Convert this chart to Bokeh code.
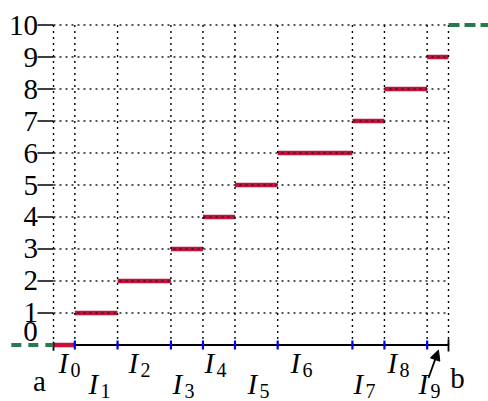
from bokeh.plotting import figure
from bokeh.models import Range1d, Arrow, NormalHead
from bokeh.embed import file_html
from bokeh.resources import INLINE
from bokeh.core.properties import value

# ---- data ----
breaks = [0, 2, 6, 11, 14, 17, 21, 28, 31, 35, 37]
levels = [0, 1, 2, 3, 4, 5, 6, 7, 8, 9]
y_ticks = [1, 2, 3, 4, 5, 6, 7, 8, 9, 10]
y_tick_labels = ["1", "2", "3", "4", "5", "6", "7", "8", "9", "10"]
zero_label = "0"
interval_subs = ["0", "1", "2", "3", "4", "5", "6", "7", "8", "9"]
left_level = 0
right_level = 10
end_labels = ["a", "b"]

# ---- annotation anchors (data coords) ----
label_x = [0.47, 3.28, 7.03, 11.15, 14.14, 18.17, 22.2, 28.1, 31.28, 34.19]
label_y_hi, label_y_lo = -0.55, -1.23

SERIF = value("Liberation Serif")
FS = "29px"
FS_SUB = "20px"

X0, X1 = -4.964, 40.747
p = figure(width=488, height=401, x_range=Range1d(X0, X1),
           y_range=Range1d(-1.766, 10.766), toolbar_location=None,
           output_backend="svg", min_border=0)
p.axis.visible = False
p.grid.visible = False
p.outline_line_color = None
p.background_fill_color = "white"

xa, xb = breaks[0], breaks[-1]
n = len(levels)

# x-axis line
p.segment(x0=[xa], y0=[0], x1=[xb], y1=[0], line_color="black", line_width=2)

# red steps
p.segment(x0=breaks[:-1], y0=levels, x1=breaks[1:], y1=levels,
          line_color="#c8103c", line_width=4.5)

# dotted grid
p.segment(x0=[xa] * len(y_ticks), y0=y_ticks, x1=[xb] * len(y_ticks), y1=y_ticks,
          line_color="#222222", line_width=1.4, line_dash="2 4")
p.segment(x0=breaks, y0=[0] * len(breaks), x1=breaks, y1=[y_ticks[-1]] * len(breaks),
          line_color="black", line_width=1.4, line_dash="2 4")

# blue ticks at inner breaks
inner = breaks[1:-1]
p.segment(x0=inner, y0=[-0.14] * len(inner), x1=inner, y1=[0.14] * len(inner),
          line_color="#0000ff", line_width=2.2)
# black ticks at a and b
p.segment(x0=[xa, xb], y0=[-0.18, -0.2], x1=[xa, xb], y1=[0.1, 0.18],
          line_color="black", line_width=1.8)

# y ticks
p.segment(x0=[-1.5] * len(y_ticks), y0=y_ticks, x1=[0] * len(y_ticks), y1=y_ticks,
          line_color="black", line_width=1.6)
p.text(x=[-1.45] * len(y_ticks), y=y_ticks, text=y_tick_labels, text_align="right",
       text_baseline="middle", text_font=SERIF, text_font_size=FS, text_color="black")
p.text(x=[-2.15], y=[0.42], text=[zero_label], text_align="center",
       text_baseline="middle", text_font=SERIF, text_font_size=FS, text_color="black")

# green dashed outside
p.segment(x0=[-3.95], y0=[left_level], x1=[xa], y1=[left_level],
          line_color="#2a7a50", line_width=4, line_dash="10 7")
p.segment(x0=[xb], y0=[right_level], x1=[X1], y1=[right_level],
          line_color="#2a7a50", line_width=4, line_dash="11 5")

# interval labels
ly = [label_y_hi if i % 2 == 0 else label_y_lo for i in range(n)]
p.text(x=label_x, y=ly, text=["I"] * n, text_align="left", text_baseline="middle",
       text_font=SERIF, text_font_style="italic", text_font_size=FS, text_color="black")
p.text(x=label_x, y=ly, text=interval_subs, text_align="left", text_baseline="middle",
       x_offset=12, y_offset=7, text_font=SERIF, text_font_size=FS_SUB, text_color="black")

# a, b labels
p.text(x=[-1.31, 37.84], y=[-1.14, -1.02], text=end_labels, text_align="center",
       text_baseline="middle", text_font=SERIF, text_font_size=FS, text_color="black")

# arrow to I_9
p.add_layout(Arrow(end=NormalHead(size=10, fill_color="black", line_color="black"),
                   x_start=35.13, y_start=-1.03, x_end=36.06, y_end=-0.16,
                   line_color="black", line_width=1.8))

open("out.html", "w").write(file_html(p, INLINE))
